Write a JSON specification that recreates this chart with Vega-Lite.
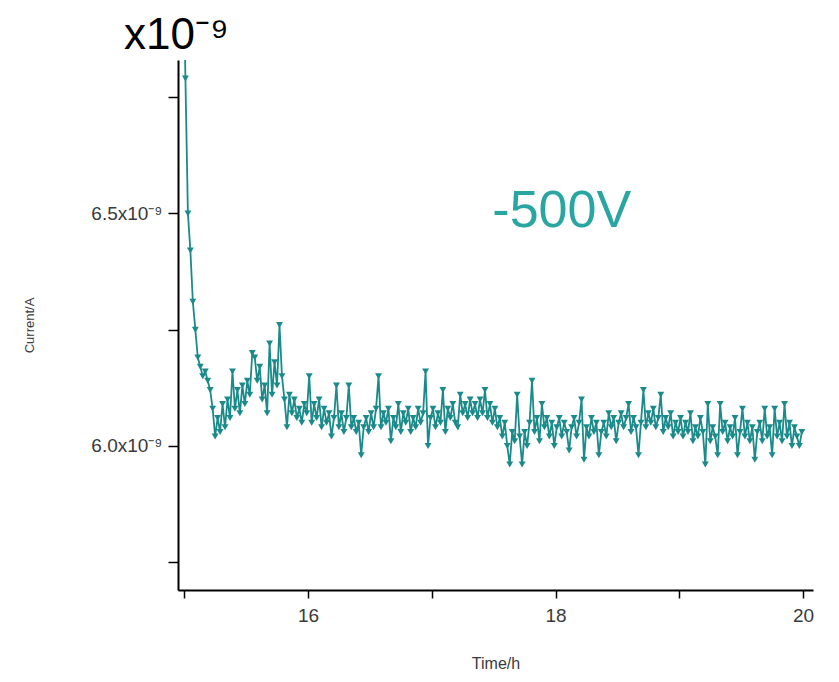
{
  "$schema": "https://vega.github.io/schema/vega-lite/v6.json",
  "width": 635,
  "height": 530,
  "autosize": {"type": "none"},
  "padding": {"left": 178, "top": 60, "right": 26, "bottom": 92},
  "background": "white",
  "title": {
    "text": "x10⁻⁹",
    "anchor": "start",
    "frame": "group",
    "fontSize": 44,
    "fontWeight": "normal",
    "font": "Liberation Sans",
    "color": "#000000",
    "dx": -54,
    "offset": 2
  },
  "config": {
    "view": {"stroke": null},
    "axis": {"grid": false, "font": "Liberation Sans"}
  },
  "datasets": {
    "series": [
      {"time": 14.99, "current": 7.10e-9},
      {"time": 15.01, "current": 6.79e-9},
      {"time": 15.03, "current": 6.50e-9},
      {"time": 15.05, "current": 6.42e-9},
      {"time": 15.07, "current": 6.31e-9},
      {"time": 15.09, "current": 6.25e-9},
      {"time": 15.11, "current": 6.19e-9},
      {"time": 15.13, "current": 6.17e-9},
      {"time": 15.15, "current": 6.15e-9},
      {"time": 15.17, "current": 6.16e-9},
      {"time": 15.19, "current": 6.14e-9},
      {"time": 15.21, "current": 6.12e-9},
      {"time": 15.23, "current": 6.08e-9},
      {"time": 15.25, "current": 6.02e-9},
      {"time": 15.27, "current": 6.06e-9},
      {"time": 15.29, "current": 6.03e-9},
      {"time": 15.31, "current": 6.09e-9},
      {"time": 15.33, "current": 6.04e-9},
      {"time": 15.35, "current": 6.10e-9},
      {"time": 15.37, "current": 6.06e-9},
      {"time": 15.39, "current": 6.16e-9},
      {"time": 15.41, "current": 6.08e-9},
      {"time": 15.43, "current": 6.12e-9},
      {"time": 15.45, "current": 6.07e-9},
      {"time": 15.47, "current": 6.13e-9},
      {"time": 15.49, "current": 6.09e-9},
      {"time": 15.51, "current": 6.14e-9},
      {"time": 15.53, "current": 6.11e-9},
      {"time": 15.55, "current": 6.20e-9},
      {"time": 15.57, "current": 6.19e-9},
      {"time": 15.59, "current": 6.14e-9},
      {"time": 15.61, "current": 6.17e-9},
      {"time": 15.63, "current": 6.10e-9},
      {"time": 15.65, "current": 6.13e-9},
      {"time": 15.67, "current": 6.07e-9},
      {"time": 15.69, "current": 6.22e-9},
      {"time": 15.71, "current": 6.11e-9},
      {"time": 15.73, "current": 6.18e-9},
      {"time": 15.75, "current": 6.13e-9},
      {"time": 15.77, "current": 6.26e-9},
      {"time": 15.79, "current": 6.15e-9},
      {"time": 15.81, "current": 6.10e-9},
      {"time": 15.83, "current": 6.04e-9},
      {"time": 15.85, "current": 6.11e-9},
      {"time": 15.87, "current": 6.07e-9},
      {"time": 15.89, "current": 6.10e-9},
      {"time": 15.91, "current": 6.06e-9},
      {"time": 15.93, "current": 6.08e-9},
      {"time": 15.95, "current": 6.05e-9},
      {"time": 15.97, "current": 6.09e-9},
      {"time": 15.99, "current": 6.07e-9},
      {"time": 16.01, "current": 6.15e-9},
      {"time": 16.03, "current": 6.05e-9},
      {"time": 16.05, "current": 6.09e-9},
      {"time": 16.07, "current": 6.06e-9},
      {"time": 16.09, "current": 6.10e-9},
      {"time": 16.11, "current": 6.04e-9},
      {"time": 16.13, "current": 6.08e-9},
      {"time": 16.15, "current": 6.05e-9},
      {"time": 16.17, "current": 6.07e-9},
      {"time": 16.19, "current": 6.02e-9},
      {"time": 16.21, "current": 6.06e-9},
      {"time": 16.23, "current": 6.13e-9},
      {"time": 16.25, "current": 6.04e-9},
      {"time": 16.27, "current": 6.07e-9},
      {"time": 16.29, "current": 6.03e-9},
      {"time": 16.31, "current": 6.06e-9},
      {"time": 16.33, "current": 6.13e-9},
      {"time": 16.35, "current": 6.04e-9},
      {"time": 16.37, "current": 6.06e-9},
      {"time": 16.39, "current": 6.03e-9},
      {"time": 16.41, "current": 6.05e-9},
      {"time": 16.43, "current": 5.98e-9},
      {"time": 16.45, "current": 6.04e-9},
      {"time": 16.47, "current": 6.06e-9},
      {"time": 16.49, "current": 6.03e-9},
      {"time": 16.51, "current": 6.07e-9},
      {"time": 16.53, "current": 6.04e-9},
      {"time": 16.55, "current": 6.08e-9},
      {"time": 16.57, "current": 6.15e-9},
      {"time": 16.59, "current": 6.04e-9},
      {"time": 16.61, "current": 6.07e-9},
      {"time": 16.63, "current": 6.05e-9},
      {"time": 16.65, "current": 6.08e-9},
      {"time": 16.67, "current": 6.01e-9},
      {"time": 16.69, "current": 6.06e-9},
      {"time": 16.71, "current": 6.04e-9},
      {"time": 16.73, "current": 6.09e-9},
      {"time": 16.75, "current": 6.03e-9},
      {"time": 16.77, "current": 6.07e-9},
      {"time": 16.79, "current": 6.05e-9},
      {"time": 16.81, "current": 6.08e-9},
      {"time": 16.83, "current": 6.03e-9},
      {"time": 16.85, "current": 6.06e-9},
      {"time": 16.87, "current": 6.04e-9},
      {"time": 16.89, "current": 6.08e-9},
      {"time": 16.91, "current": 6.05e-9},
      {"time": 16.93, "current": 6.07e-9},
      {"time": 16.95, "current": 6.16e-9},
      {"time": 16.97, "current": 6.00e-9},
      {"time": 16.99, "current": 6.06e-9},
      {"time": 17.01, "current": 6.08e-9},
      {"time": 17.03, "current": 6.04e-9},
      {"time": 17.05, "current": 6.07e-9},
      {"time": 17.07, "current": 6.05e-9},
      {"time": 17.09, "current": 6.12e-9},
      {"time": 17.11, "current": 6.03e-9},
      {"time": 17.13, "current": 6.08e-9},
      {"time": 17.15, "current": 6.06e-9},
      {"time": 17.17, "current": 6.09e-9},
      {"time": 17.19, "current": 6.05e-9},
      {"time": 17.21, "current": 6.04e-9},
      {"time": 17.23, "current": 6.11e-9},
      {"time": 17.25, "current": 6.07e-9},
      {"time": 17.27, "current": 6.09e-9},
      {"time": 17.29, "current": 6.06e-9},
      {"time": 17.31, "current": 6.10e-9},
      {"time": 17.33, "current": 6.07e-9},
      {"time": 17.35, "current": 6.09e-9},
      {"time": 17.37, "current": 6.06e-9},
      {"time": 17.39, "current": 6.10e-9},
      {"time": 17.41, "current": 6.07e-9},
      {"time": 17.43, "current": 6.12e-9},
      {"time": 17.45, "current": 6.06e-9},
      {"time": 17.47, "current": 6.09e-9},
      {"time": 17.49, "current": 6.05e-9},
      {"time": 17.51, "current": 6.08e-9},
      {"time": 17.53, "current": 6.04e-9},
      {"time": 17.55, "current": 6.06e-9},
      {"time": 17.57, "current": 6.02e-9},
      {"time": 17.59, "current": 6.05e-9},
      {"time": 17.61, "current": 6.00e-9},
      {"time": 17.63, "current": 5.96e-9},
      {"time": 17.65, "current": 6.03e-9},
      {"time": 17.67, "current": 6.01e-9},
      {"time": 17.69, "current": 6.11e-9},
      {"time": 17.71, "current": 6.02e-9},
      {"time": 17.73, "current": 5.96e-9},
      {"time": 17.75, "current": 6.03e-9},
      {"time": 17.77, "current": 6.00e-9},
      {"time": 17.79, "current": 6.05e-9},
      {"time": 17.81, "current": 6.14e-9},
      {"time": 17.83, "current": 6.03e-9},
      {"time": 17.85, "current": 6.06e-9},
      {"time": 17.87, "current": 6.01e-9},
      {"time": 17.89, "current": 6.09e-9},
      {"time": 17.91, "current": 6.04e-9},
      {"time": 17.93, "current": 6.06e-9},
      {"time": 17.95, "current": 6.02e-9},
      {"time": 17.97, "current": 6.05e-9},
      {"time": 17.99, "current": 6.00e-9},
      {"time": 18.01, "current": 6.04e-9},
      {"time": 18.03, "current": 6.06e-9},
      {"time": 18.05, "current": 6.02e-9},
      {"time": 18.07, "current": 6.05e-9},
      {"time": 18.09, "current": 6.03e-9},
      {"time": 18.11, "current": 5.99e-9},
      {"time": 18.13, "current": 6.04e-9},
      {"time": 18.15, "current": 6.06e-9},
      {"time": 18.17, "current": 6.02e-9},
      {"time": 18.19, "current": 6.05e-9},
      {"time": 18.21, "current": 6.10e-9},
      {"time": 18.23, "current": 5.97e-9},
      {"time": 18.25, "current": 6.04e-9},
      {"time": 18.27, "current": 6.02e-9},
      {"time": 18.29, "current": 6.06e-9},
      {"time": 18.31, "current": 6.03e-9},
      {"time": 18.33, "current": 6.05e-9},
      {"time": 18.35, "current": 5.98e-9},
      {"time": 18.37, "current": 6.03e-9},
      {"time": 18.39, "current": 6.05e-9},
      {"time": 18.41, "current": 6.02e-9},
      {"time": 18.43, "current": 6.07e-9},
      {"time": 18.45, "current": 6.04e-9},
      {"time": 18.47, "current": 6.06e-9},
      {"time": 18.49, "current": 6.01e-9},
      {"time": 18.51, "current": 6.05e-9},
      {"time": 18.53, "current": 6.07e-9},
      {"time": 18.55, "current": 6.04e-9},
      {"time": 18.57, "current": 6.06e-9},
      {"time": 18.59, "current": 6.09e-9},
      {"time": 18.61, "current": 6.03e-9},
      {"time": 18.63, "current": 6.06e-9},
      {"time": 18.65, "current": 6.04e-9},
      {"time": 18.67, "current": 5.98e-9},
      {"time": 18.69, "current": 6.05e-9},
      {"time": 18.71, "current": 6.12e-9},
      {"time": 18.73, "current": 6.04e-9},
      {"time": 18.75, "current": 6.07e-9},
      {"time": 18.77, "current": 6.05e-9},
      {"time": 18.79, "current": 6.08e-9},
      {"time": 18.81, "current": 6.04e-9},
      {"time": 18.83, "current": 6.06e-9},
      {"time": 18.85, "current": 6.11e-9},
      {"time": 18.87, "current": 6.03e-9},
      {"time": 18.89, "current": 6.06e-9},
      {"time": 18.91, "current": 6.04e-9},
      {"time": 18.93, "current": 6.07e-9},
      {"time": 18.95, "current": 6.02e-9},
      {"time": 18.97, "current": 6.05e-9},
      {"time": 18.99, "current": 6.03e-9},
      {"time": 19.01, "current": 6.06e-9},
      {"time": 19.03, "current": 6.02e-9},
      {"time": 19.05, "current": 6.05e-9},
      {"time": 19.07, "current": 6.03e-9},
      {"time": 19.09, "current": 6.07e-9},
      {"time": 19.11, "current": 6.01e-9},
      {"time": 19.13, "current": 6.04e-9},
      {"time": 19.15, "current": 6.02e-9},
      {"time": 19.17, "current": 6.06e-9},
      {"time": 19.19, "current": 6.03e-9},
      {"time": 19.21, "current": 5.96e-9},
      {"time": 19.23, "current": 6.09e-9},
      {"time": 19.25, "current": 6.01e-9},
      {"time": 19.27, "current": 6.04e-9},
      {"time": 19.29, "current": 6.02e-9},
      {"time": 19.31, "current": 5.98e-9},
      {"time": 19.33, "current": 6.09e-9},
      {"time": 19.35, "current": 6.03e-9},
      {"time": 19.37, "current": 6.05e-9},
      {"time": 19.39, "current": 6.01e-9},
      {"time": 19.41, "current": 6.04e-9},
      {"time": 19.43, "current": 6.02e-9},
      {"time": 19.45, "current": 6.06e-9},
      {"time": 19.47, "current": 5.98e-9},
      {"time": 19.49, "current": 6.03e-9},
      {"time": 19.51, "current": 6.08e-9},
      {"time": 19.53, "current": 6.02e-9},
      {"time": 19.55, "current": 6.05e-9},
      {"time": 19.57, "current": 6.01e-9},
      {"time": 19.59, "current": 6.04e-9},
      {"time": 19.61, "current": 5.97e-9},
      {"time": 19.63, "current": 6.03e-9},
      {"time": 19.65, "current": 6.05e-9},
      {"time": 19.67, "current": 6.01e-9},
      {"time": 19.69, "current": 6.08e-9},
      {"time": 19.71, "current": 6.02e-9},
      {"time": 19.73, "current": 6.04e-9},
      {"time": 19.75, "current": 5.98e-9},
      {"time": 19.77, "current": 6.08e-9},
      {"time": 19.79, "current": 6.02e-9},
      {"time": 19.81, "current": 6.05e-9},
      {"time": 19.83, "current": 6.01e-9},
      {"time": 19.85, "current": 6.09e-9},
      {"time": 19.87, "current": 6.02e-9},
      {"time": 19.89, "current": 6.05e-9},
      {"time": 19.91, "current": 6.00e-9},
      {"time": 19.93, "current": 6.04e-9},
      {"time": 19.95, "current": 6.02e-9},
      {"time": 19.97, "current": 6.00e-9},
      {"time": 19.99, "current": 6.03e-9}
    ],
    "annotation": [
      {"label": "-500V", "time": 18.05, "current": 6.505e-9}
    ]
  },
  "encoding": {
    "x": {
      "field": "time",
      "type": "quantitative",
      "scale": {"domain": [14.95, 20.08], "nice": false, "zero": false},
      "axis": {
        "title": "Time/h",
        "values": [15, 16, 17, 18, 19, 20],
        "labelExpr": "datum.value % 2 == 0 ? datum.label : ''",
        "domainColor": "#000000",
        "domainWidth": 2,
        "tickColor": "#000000",
        "tickWidth": 1.5,
        "tickSize": 8,
        "labelFontSize": 19,
        "labelColor": "#3a3a3a",
        "labelPadding": 8,
        "titleFontSize": 16,
        "titleFontWeight": "normal",
        "titleColor": "#3a3a3a",
        "titlePadding": 30
      }
    },
    "y": {
      "field": "current",
      "type": "quantitative",
      "scale": {"domain": [5.69e-9, 6.83e-9], "nice": false, "zero": false},
      "axis": {
        "title": "Current/A",
        "values": [5.75e-9, 6.0e-9, 6.25e-9, 6.5e-9, 6.75e-9],
        "labelExpr": "abs(datum.value - 6.0e-9) < 1e-12 ? '6.0x10⁻⁹' : (abs(datum.value - 6.5e-9) < 1e-12 ? '6.5x10⁻⁹' : '')",
        "domainColor": "#000000",
        "domainWidth": 2,
        "tickColor": "#000000",
        "tickWidth": 1.5,
        "tickSize": 10,
        "labelFontSize": 19,
        "labelColor": "#3a3a3a",
        "labelPadding": 6,
        "titleFontSize": 13,
        "titleFontWeight": "normal",
        "titleColor": "#3a3a3a",
        "titlePadding": 54
      }
    }
  },
  "layer": [
    {
      "data": {"name": "series"},
      "mark": {"type": "line", "color": "#1b8a8a", "strokeWidth": 1.8, "clip": true}
    },
    {
      "data": {"name": "series"},
      "mark": {"type": "point", "shape": "triangle-down", "filled": true, "size": 48, "opacity": 1, "color": "#1b8a8a", "clip": true}
    },
    {
      "data": {"name": "annotation"},
      "mark": {"type": "text", "fontSize": 52, "font": "Liberation Sans", "color": "#2aa6a2", "baseline": "middle", "align": "center"},
      "encoding": {"text": {"field": "label"}}
    }
  ]
}
